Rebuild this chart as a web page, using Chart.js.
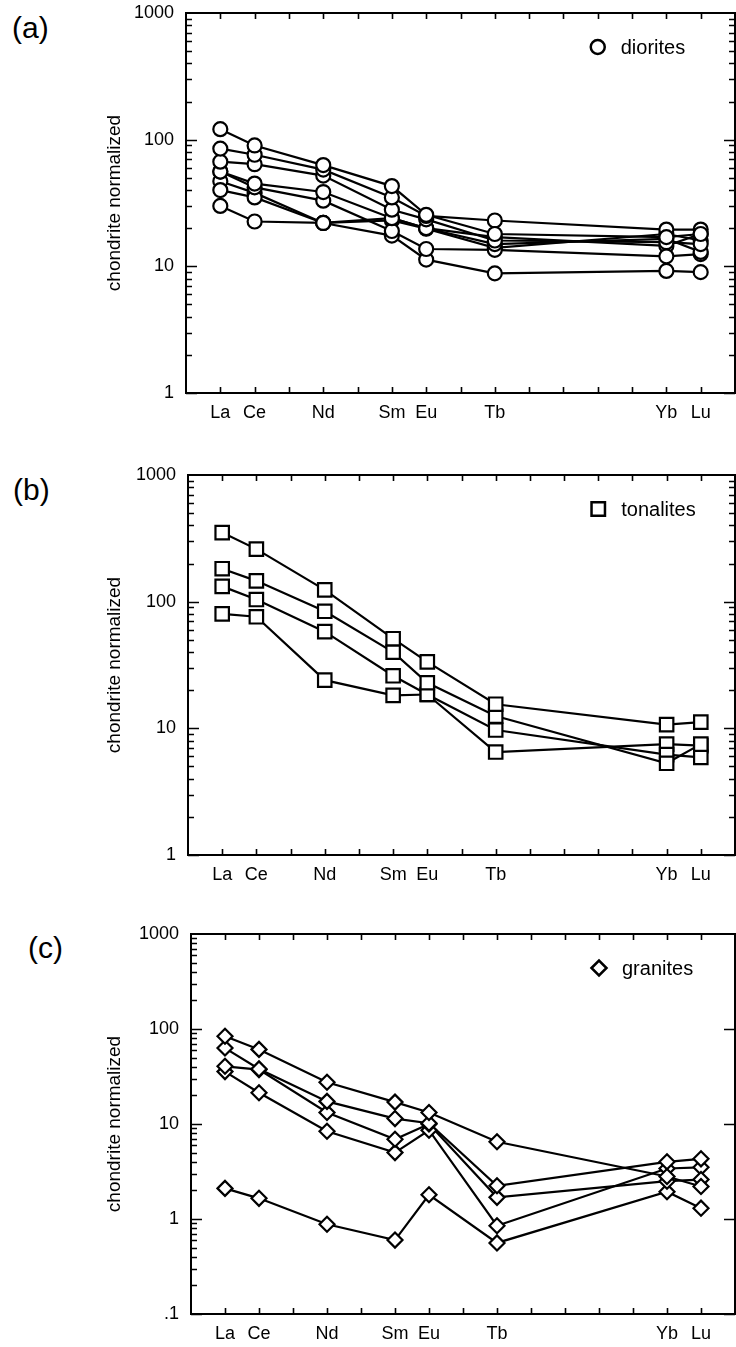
<!DOCTYPE html>
<html lang="en">
<head>
    <meta charset="UTF-8">
    <title>Chondrite normalized REE patterns</title>
    <script src="https://cdn.jsdelivr.net/npm/chart.js"></script>
    <style>
        body { margin: 0; background: #fff; width: 736px; height: 1347px; overflow: hidden; position: relative;
               font-family: "Liberation Sans", Arial, sans-serif; color: #000; }
        .panel { position: absolute; left: 0; }
        .tag { position: absolute; font-size: 30px; line-height: 34px; }
    </style>
</head>
<body>
    <div class="tag" style="left:12px; top:11px">(a)</div>
    <div class="tag" style="left:13px; top:473px">(b)</div>
    <div class="tag" style="left:28px; top:931px">(c)</div>

    <div class="panel" style="top:0px"><canvas id="chartA" width="736" height="440"></canvas></div>
    <div class="panel" style="top:462px"><canvas id="chartB" width="736" height="440"></canvas></div>
    <div class="panel" style="top:921px"><canvas id="chartC" width="736" height="440"></canvas></div>

    <script>
        // REE on the x axis, placed by atomic number
        const elements = ['La', 'Ce', 'Nd', 'Sm', 'Eu', 'Tb', 'Yb', 'Lu'];
        const atomicNumbers = [57, 58, 60, 62, 63, 65, 70, 71];

        const yTicksAB = [1, 10, 100, 1000];
        const yTicksC = [0.1, 1, 10, 100, 1000];

        // one row per sample, values in element order
        const diorites = [
            [121, 90, 63, 43, 25.5, 18, 17, 18],
            [85, 76, 58, 35, 25, 23, 19.5, 19.5],
            [67, 64, 52, 28, 23.5, 16, 15.5, 15],
            [56, 45, 38.6, 24, 20, 15, 16.5, 13],
            [56, 42, 33, 19, 13.7, 13.5, 12, 12.5],
            [40, 35, 22, 17.5, 11.3, 8.8, 9.2, 9],
            [30, 22.6, 22, 24, 20, 17, 14.5, 18],
            [47, 38, 22, 23, 19.8, 14, 18, 16]
        ];

        const tonalites = [
            [351, 260, 124, 51, 33.5, 15.5, 10.7, 11.2],
            [182, 146, 84, 40, 22.9, 12.5, 5.3, 7.5],
            [132, 104, 58, 26, 18.5, 9.7, 6.2, 5.9],
            [80, 76, 24, 18.2, 18.5, 6.5, 7.5, 7.3]
        ];

        const granites = [
            [84, 61, 27.5, 17, 13.2, 6.5, 2.8, 2.2],
            [63, 38, 17.3, 11.4, 10.2, 2.24, 4.0, 4.3],
            [40.5, 37.4, 13.2, 6.9, 10, 1.69, 2.5, 2.6],
            [35.6, 21.3, 8.4, 5.0, 8.6, 0.85, 3.4, 3.5],
            [2.1, 1.65, 0.88, 0.6, 1.8, 0.56, 1.94, 1.3]
        ];

        // frame plus inward ticks on all four sides
        const frameTicks = {
            id: 'frameTicks',
            afterDraw(chart, args, opts) {
                const { ctx, chartArea: a, scales: { x, y } } = chart;
                ctx.save();
                ctx.strokeStyle = '#000';
                ctx.lineWidth = 2;
                ctx.strokeRect(a.left, a.top, a.right - a.left, a.bottom - a.top);
                ctx.lineWidth = 1.6;
                ctx.beginPath();
                for (let n = x.min + 1; n < x.max; n++) {
                    const px = Math.round(x.getPixelForValue(n)) + 0.5;
                    ctx.moveTo(px, a.bottom); ctx.lineTo(px, a.bottom - 6);
                    ctx.moveTo(px, a.top); ctx.lineTo(px, a.top + 6);
                }
                for (let d = y.min; d < y.max * 0.99; d *= 10) {
                    for (let k = 1; k <= 9; k++) {
                        const py = Math.round(y.getPixelForValue(d * k)) + 0.5;
                        const len = k === 1 ? 11 : 6;
                        ctx.moveTo(a.left, py); ctx.lineTo(a.left + len, py);
                        if (opts.rightMinor || k === 1) {
                            ctx.moveTo(a.right, py); ctx.lineTo(a.right - len, py);
                        }
                    }
                }
                ctx.stroke();
                ctx.restore();
            }
        };

        // the little key in the upper right corner
        const legendMark = {
            id: 'legendMark',
            afterDraw(chart, args, opts) {
                const { ctx, chartArea: a, scales: { x } } = chart;
                const px = x.getPixelForValue(opts.at);
                const py = a.top + 34;
                ctx.save();
                ctx.fillStyle = '#fff';
                ctx.strokeStyle = '#000';
                ctx.lineWidth = 2.5;
                Chart.helpers.drawPoint(ctx, { pointStyle: opts.style, radius: opts.radius, borderWidth: 2.5 }, px, py);
                ctx.fillStyle = '#000';
                ctx.font = '20px "Liberation Sans", Arial, sans-serif';
                ctx.textBaseline = 'middle';
                ctx.fillText(opts.text, px + 23, py + 1);
                ctx.restore();
            }
        };

        function makeDatasets(samples, style, radius) {
            const lines = samples.map(vals => ({
                data: vals.map((v, i) => ({ x: atomicNumbers[i], y: v })),
                showLine: true,
                pointRadius: 0,
                borderColor: '#000',
                borderWidth: 2.2,
                order: 1
            }));
            const marks = samples.map(vals => ({
                data: vals.map((v, i) => ({ x: atomicNumbers[i], y: v })),
                showLine: false,
                pointStyle: style,
                pointRadius: radius,
                pointBackgroundColor: '#fff',
                pointBorderColor: '#000',
                pointBorderWidth: 2.2,
                order: 0
            }));
            return lines.concat(marks);
        }

        const font18 = { size: 18, family: '"Liberation Sans", Arial, sans-serif' };

        function drawPanel(id, samples, style, radius, name, yTicks, leftEdge, rightMinor) {
            const ctx = document.getElementById(id).getContext('2d');
            return new Chart(ctx, {
                type: 'scatter',
                data: { datasets: makeDatasets(samples, style, radius) },
                plugins: [frameTicks, legendMark],
                options: {
                    responsive: false,
                    animation: false,
                    layout: { autoPadding: false, padding: { top: 13, right: 1, left: 0, bottom: 0 } },
                    plugins: {
                        legend: { display: false },
                        tooltip: { enabled: false },
                        frameTicks: { rightMinor: rightMinor },
                        legendMark: { text: name, style: style, radius: radius, at: 68 }
                    },
                    scales: {
                        x: {
                            type: 'linear',
                            min: 56,
                            max: 72,
                            grid: { display: false, drawTicks: false },
                            border: { display: false },
                            afterBuildTicks: s => { s.ticks = atomicNumbers.map(v => ({ value: v })); },
                            afterFit: s => { s.height = 47; s.paddingLeft = 0; s.paddingRight = 0; },
                            ticks: {
                                autoSkip: false,
                                maxRotation: 0,
                                padding: 9,
                                color: '#000',
                                font: font18,
                                callback: v => elements[atomicNumbers.indexOf(v)] || ''
                            }
                        },
                        y: {
                            type: 'logarithmic',
                            min: yTicks[0],
                            max: yTicks[yTicks.length - 1],
                            grid: { display: false, drawTicks: false },
                            border: { display: false },
                            afterBuildTicks: s => { s.ticks = yTicks.map(v => ({ value: v })); },
                            afterFit: s => { s.width = leftEdge; s.paddingTop = 0; s.paddingBottom = 0; },
                            title: {
                                display: true,
                                text: 'chondrite normalized',
                                color: '#000',
                                font: { size: 19, family: '"Liberation Sans", Arial, sans-serif' },
                                padding: { top: 103, bottom: 0 }
                            },
                            ticks: {
                                padding: 12,
                                color: '#000',
                                font: font18,
                                callback: v => (v < 1 ? '.1' : String(v))
                            }
                        }
                    }
                }
            });
        }

        drawPanel('chartA', diorites, 'circle', 7, 'diorites', yTicksAB, 186, true);
        drawPanel('chartB', tonalites, 'rect', 9.5, 'tonalites', yTicksAB, 188, true);
        drawPanel('chartC', granites, 'rectRot', 7.5, 'granites', yTicksC, 191, false);
    </script>
</body>
</html>
